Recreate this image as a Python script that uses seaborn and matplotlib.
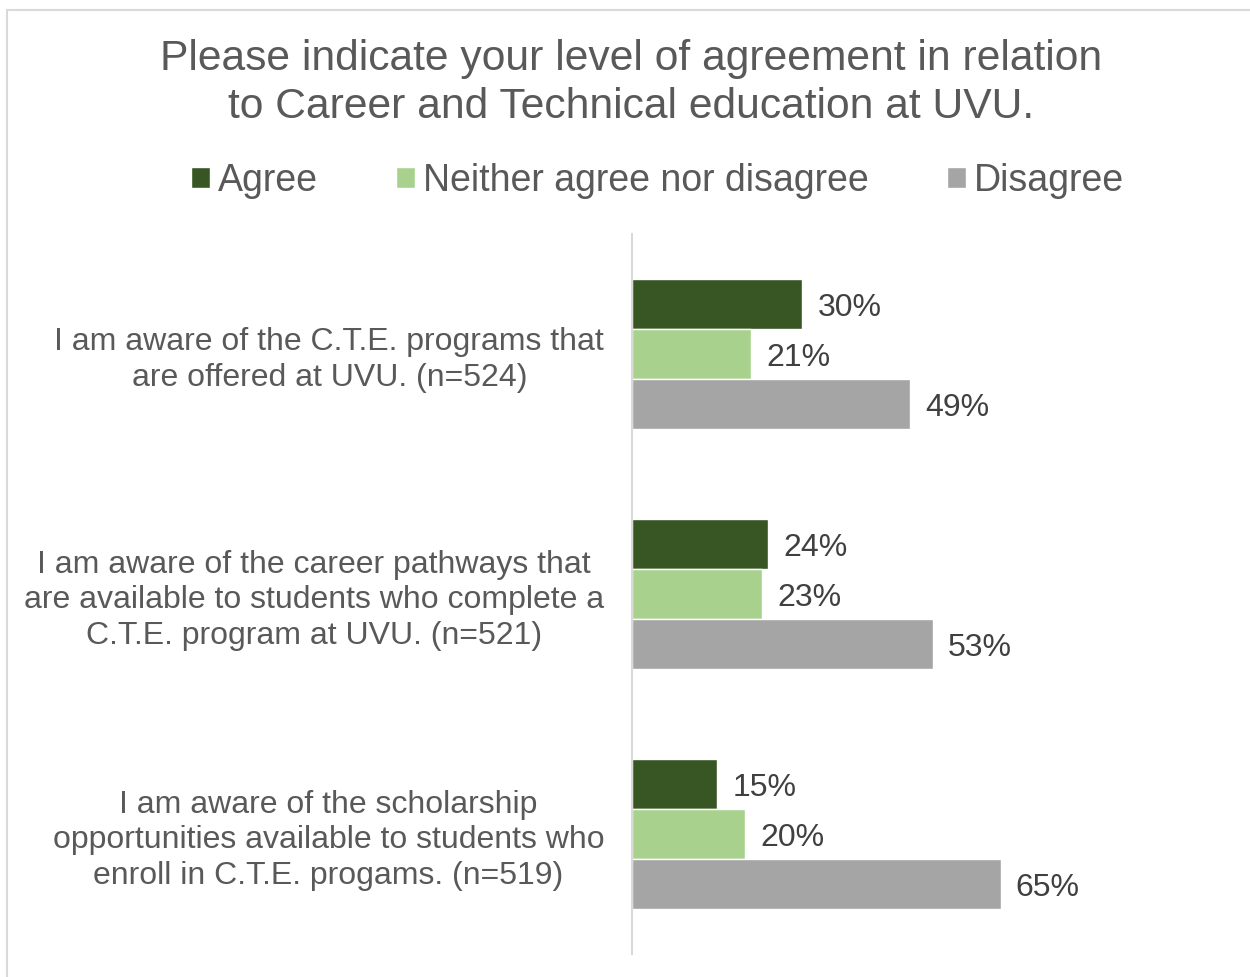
import pandas as pd
import matplotlib.pyplot as plt
import matplotlib.patches as patches
import seaborn as sns

# Data
statements = [
    "I am aware of the C.T.E. programs that\nare offered at UVU. (n=524)",
    "I am aware of the career pathways that\nare available to students who complete a\nC.T.E. program at UVU. (n=521)",
    "I am aware of the scholarship\nopportunities available to students who\nenroll in C.T.E. progams. (n=519)",
]
responses = ["Agree", "Neither agree nor disagree", "Disagree"]
agree = [30, 24, 15]
neutral = [21, 23, 20]
disagree = [49, 53, 65]
colors = ["#375623", "#A9D18E", "#A5A5A5"]

rows = []
for i, s in enumerate(statements):
    for r, vals in zip(responses, [agree, neutral, disagree]):
        rows.append({"Statement": s, "Response": r, "Percent": vals[i]})
df = pd.DataFrame(rows)

sns.set_theme(style="white")
plt.rcParams['font.family'] = ['Liberation Sans', 'DejaVu Sans']

fig = plt.figure(figsize=(12.5, 9.77), dpi=100)
ax = fig.add_axes([0.5056, 0.0235, 0.4536, 0.737])

sns.barplot(data=df, y='Statement', x='Percent', hue='Response', hue_order=responses,
            palette=colors, width=0.625, orient='h', saturation=1, ax=ax)

handles, labels = ax.get_legend_handles_labels()
ax.get_legend().remove()

for cont in ax.containers:
    texts = ax.bar_label(cont, fmt='{:.0f}%', padding=11, fontsize=23, color='#404040')
    for t in texts:
        t.set_y(-3)  # nudge slightly lower, like the original

ax.set_xlim(0, 100)
ax.set_ylim(2.5, -0.5)
ax.set_xlabel('')
ax.set_ylabel('')
ax.xaxis.set_visible(False)
for side in ['top', 'right', 'bottom']:
    ax.spines[side].set_visible(False)
ax.spines['left'].set_color('#D9D9D9')
ax.spines['left'].set_linewidth(1.5)
ax.tick_params(axis='y', length=0, pad=20, labelsize=23, labelcolor='#595959')
for lbl in ax.get_yticklabels():
    lbl.set_multialignment('center')
    lbl.set_linespacing(1.25)

# Title
fig.text(0.5048, 1 - 83 / 977,
         "Please indicate your level of agreement in relation\nto Career and Technical education at UVU.",
         ha='center', va='center', fontsize=30.7, color='#595959', linespacing=1.28)

# Legend
fig.legend(handles, labels, loc='center', bbox_to_anchor=(0.526, 1 - 181 / 977), ncol=3,
           frameon=False, fontsize=27, handlelength=0.5, handleheight=0.5,
           handletextpad=0.2, columnspacing=2.1, labelcolor='#595959')

# Chart border
fig.patches.append(patches.Rectangle((7 / 1250, -0.05), 1.1, 1 - 10 / 977 + 0.05,
                                     transform=fig.transFigure, fill=False,
                                     edgecolor='#D9D9D9', linewidth=1.5))

fig.savefig('out.png', dpi=100)
